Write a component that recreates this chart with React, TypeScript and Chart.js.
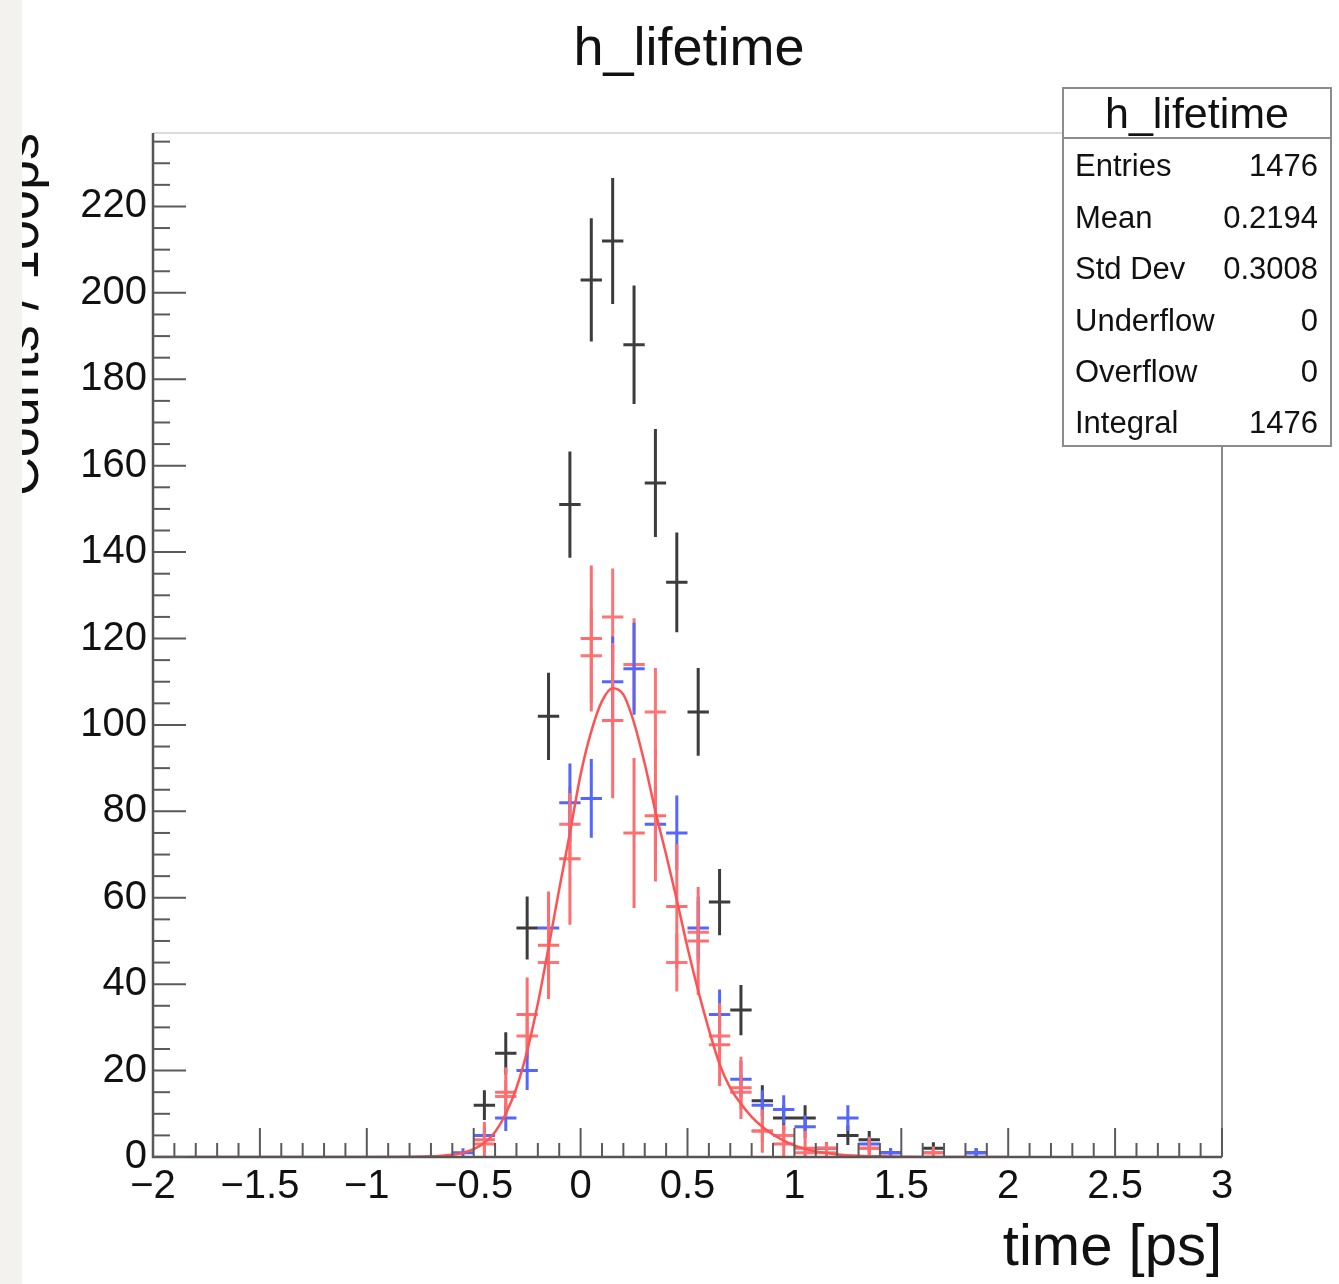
import React, { useEffect, useRef } from "react";
import { Chart, registerables } from "chart.js";

Chart.register(...registerables);

// ---- data ----
const binCenters = [-0.55, -0.45, -0.35, -0.25, -0.15, -0.05, 0.05, 0.15, 0.25, 0.35, 0.45, 0.55, 0.65, 0.75, 0.85, 0.95, 1.05, 1.15, 1.25, 1.35, 1.45, 1.55, 1.65, 1.75, 1.85];
const blackCounts = [0, 12, 24, 53, 102, 151, 203, 212, 188, 156, 133, 103, 59, 34, 13, 9, 9, 2, 5, 4, 1, 0, 2, 0, 1];
const blueCounts = [1, 5, 9, 20, 53, 82, 83, 110, 113, 77, 75, 53, 33, 18, 12, 11, 7, 0, 9, 3, 1, 0, 0, 0, 1];
const redDiffCounts = [0, 4, 15, 33, 49, 69, 120, 101, 75, 79, 58, 50, 26, 16, 6, 3, 2, 2, 0, 2, 0, 0, 1, 0, 0];
const redCounts = [0, 3, 14, 28, 45, 77, 116, 125, 114, 103, 45, 52, 28, 15, 6, 5, 1, 1, 0, 2, 0, 0, 1, 0, 0];
const halfBinWidth = 0.05;

const fitX = [-2, -1.5, -1, -0.8, -0.7, -0.65, -0.6, -0.55, -0.5, -0.45, -0.4, -0.35, -0.3, -0.25, -0.2, -0.15, -0.1, -0.05, 0, 0.05, 0.1, 0.15, 0.2, 0.25, 0.3, 0.35, 0.4, 0.45, 0.5, 0.55, 0.6, 0.65, 0.7, 0.75, 0.8, 0.85, 0.9, 0.95, 1.0, 1.05, 1.1, 1.15, 1.2, 1.3, 1.4, 1.5, 1.7, 2.0];
const fitY = [0, 0, 0, 0.05, 0.15, 0.3, 0.5, 1, 1.8, 3.3, 5.8, 10, 16, 24.5, 35.5, 48.5, 62, 75, 88.5, 98.5, 105.5, 108.5, 107, 100.5, 91, 80, 70, 59.5, 48.5, 38.5, 29.5, 21.5, 16, 12.3, 9.3, 7, 5.2, 3.8, 2.7, 1.9, 1.3, 0.9, 0.6, 0.3, 0.15, 0.07, 0.02, 0];

const xMajorTicks = [-2, -1.5, -1, -0.5, 0, 0.5, 1, 1.5, 2, 2.5, 3];
const yMajorTicks = [0, 20, 40, 60, 80, 100, 120, 140, 160, 180, 200, 220];
const xMin = -2;
const xMax = 3;
const yMin = 0;
const yMax = 237;

const titleText = "h_lifetime";
const xTitle = "time [ps]";
const yTitle = "Counts / 100ps";
const statLabels = ["Entries", "Mean", "Std Dev", "Underflow", "Overflow", "Integral"];
const statValues = ["1476", "0.2194", "0.3008", "0", "0", "1476"];

const FONT = '"Liberation Sans", Arial, Helvetica, sans-serif';

type Pt = { x: number; y: number | null };

function errorBarData(counts: number[], errs: number[]): Pt[] {
  const pts: Pt[] = [];
  binCenters.forEach((c, i) => {
    const v = counts[i];
    if (!v) return;
    const e = errs[i];
    pts.push({ x: c, y: v - e }, { x: c, y: v + e }, { x: c, y: null });
    pts.push({ x: c - halfBinWidth, y: v }, { x: c + halfBinWidth, y: v }, { x: c, y: null });
  });
  return pts;
}

function fmt(v: number): string {
  const r = Math.round(v * 10) / 10;
  const s = String(Math.abs(r));
  return r < 0 ? "\u2212" + s : s;
}

const ticksPlugin = {
  id: "rootAxes",
  afterDraw(chart: any) {
    const { ctx, chartArea, scales } = chart;
    const xs = scales.x;
    const ys = scales.y;
    const { left, right, top, bottom } = chartArea;
    ctx.save();
    // frame
    ctx.strokeStyle = "#cfcfcf";
    ctx.lineWidth = 1.5;
    ctx.beginPath();
    ctx.moveTo(left, top);
    ctx.lineTo(right, top);
    ctx.stroke();
    ctx.strokeStyle = "#8a8a8a";
    ctx.lineWidth = 2;
    ctx.beginPath();
    ctx.moveTo(right, top);
    ctx.lineTo(right, bottom);
    ctx.stroke();
    // axes
    ctx.strokeStyle = "#555";
    ctx.lineWidth = 2.5;
    ctx.beginPath();
    ctx.moveTo(left, top);
    ctx.lineTo(left, bottom);
    ctx.lineTo(right, bottom);
    ctx.stroke();
    // x ticks (inward)
    ctx.lineWidth = 2;
    ctx.strokeStyle = "#5a5a5a";
    for (let i = 0; i <= 50; i++) {
      const v = xMin + i * 0.1;
      const px = xs.getPixelForValue(v);
      const len = i % 5 === 0 ? 29 : 14;
      ctx.beginPath();
      ctx.moveTo(px, bottom);
      ctx.lineTo(px, bottom - len);
      ctx.stroke();
    }
    // y ticks (inward)
    for (let v = 0; v <= yMax; v += 5) {
      const py = ys.getPixelForValue(v);
      const len = v % 20 === 0 ? 33 : 17;
      ctx.beginPath();
      ctx.moveTo(left, py);
      ctx.lineTo(left + len, py);
      ctx.stroke();
    }
    ctx.restore();
  },
};

export default function App() {
  const canvasRef = useRef<HTMLCanvasElement>(null);

  useEffect(() => {
    document.body.style.margin = "0";
    const canvas = canvasRef.current;
    if (!canvas) return;
    Chart.defaults.font.family = FONT;

    const blackErr = blackCounts.map((v) => Math.sqrt(v));
    const blueErr = blueCounts.map((v) => Math.sqrt(v));
    const redErr = redCounts.map((v) => Math.sqrt(v));
    const diffErr = redDiffCounts.map((_, i) => Math.sqrt(blackCounts[i] + blueCounts[i]));

    const common = {
      type: "line" as const,
      pointRadius: 0,
      pointHoverRadius: 0,
      tension: 0,
      spanGaps: false,
      fill: false,
    };

    const chart = new Chart(canvas, {
      type: "line",
      data: {
        datasets: [
          {
            ...common,
            label: "fit",
            data: fitX.map((x, i) => ({ x, y: fitY[i] })),
            borderColor: "#ff5252",
            borderWidth: 2.5,
            cubicInterpolationMode: "monotone",
          } as any,
          {
            ...common,
            label: "difference",
            data: errorBarData(redDiffCounts, diffErr),
            borderColor: "#ff6e6e",
            borderWidth: 3,
          },
          {
            ...common,
            label: "blue",
            data: errorBarData(blueCounts, blueErr),
            borderColor: "#5566ff",
            borderWidth: 3,
          },
          {
            ...common,
            label: "red",
            data: errorBarData(redCounts, redErr),
            borderColor: "#ff7474",
            borderWidth: 3,
          },
          {
            ...common,
            label: "h_lifetime",
            data: errorBarData(blackCounts, blackErr),
            borderColor: "#3c3c3c",
            borderWidth: 3,
          },
        ],
      },
      options: {
        responsive: false,
        animation: false,
        devicePixelRatio: 1,
        events: [],
        layout: { padding: { left: 0, right: 117, top: 133, bottom: 0 } },
        plugins: {
          legend: { display: false },
          tooltip: { enabled: false },
          title: { display: false },
        },
        scales: {
          x: {
            type: "linear",
            position: "bottom",
            min: xMin,
            max: xMax,
            grid: { display: false, drawTicks: false, tickLength: 0 },
            border: { display: false },
            afterBuildTicks: (scale: any) => {
              scale.ticks = xMajorTicks.map((v) => ({ value: v }));
            },
            afterFit: (scale: any) => {
              scale.height = 127;
            },
            ticks: {
              autoSkip: false,
              maxRotation: 0,
              padding: 6,
              color: "#111",
              font: { size: 40, family: FONT },
              callback: (v: any) => fmt(Number(v)),
            },
            title: {
              display: true,
              text: xTitle,
              align: "end",
              color: "#111",
              font: { size: 58, family: FONT, lineHeight: 1.2 },
              padding: { top: 0, bottom: 0 },
            },
          },
          y: {
            type: "linear",
            min: yMin,
            max: yMax,
            grid: { display: false, drawTicks: false, tickLength: 0 },
            border: { display: false },
            afterBuildTicks: (scale: any) => {
              scale.ticks = yMajorTicks.map((v) => ({ value: v }));
            },
            afterFit: (scale: any) => {
              scale.width = 153;
            },
            ticks: {
              padding: 6,
              color: "#111",
              font: { size: 40, family: FONT },
              callback: (v: any) => fmt(Number(v)),
            },
            title: {
              display: true,
              text: yTitle,
              align: "end",
              color: "#111",
              font: { size: 54, family: FONT, lineHeight: 0.86 },
              padding: { top: 0, bottom: 0 },
            },
          },
        },
      },
      plugins: [ticksPlugin],
    });
    return () => chart.destroy();
  }, []);

  const boxLeft = 1062;
  const boxTop = 87;
  const boxW = 270;
  const boxH = 360;
  const border = 2;
  const statFont = 31;
  const rowBaselines = [177, 229, 280, 332, 383, 434];
  const rowLine = 50;
  const rowBaseOffset = (rowLine - 1.117 * statFont) / 2 + 0.905 * statFont;

  return (
    <div
      style={{
        position: "relative",
        width: 1339,
        height: 1284,
        background: "#ffffff",
        overflow: "hidden",
        fontFamily: FONT,
        color: "#111",
      }}
    >
      <canvas
        ref={canvasRef}
        width={1339}
        height={1284}
        style={{ position: "absolute", left: 0, top: 0, display: "block" }}
      />
      <div
        style={{
          position: "absolute",
          left: 0,
          top: 0,
          width: 22,
          height: 1284,
          background: "#f4f2ee",
        }}
      />
      <div
        style={{
          position: "absolute",
          left: 389,
          top: 16,
          width: 600,
          height: 60,
          lineHeight: "60px",
          fontSize: 54,
          textAlign: "center",
          whiteSpace: "nowrap",
        }}
      >
        {titleText}
      </div>
      <div
        style={{
          position: "absolute",
          left: boxLeft,
          top: boxTop,
          width: boxW,
          height: boxH,
          boxSizing: "border-box",
          background: "#fff",
          border: `${border}px solid #8c8c8c`,
        }}
      >
        <div
          style={{
            position: "absolute",
            left: 0,
            top: 0,
            width: boxW - 2 * border,
            height: 48,
            lineHeight: "48px",
            fontSize: 43,
            textAlign: "center",
            borderBottom: "2px solid #8c8c8c",
            whiteSpace: "nowrap",
          }}
        >
          {titleText}
        </div>
        {statLabels.map((lab, i) => (
          <div
            key={lab}
            style={{
              position: "absolute",
              left: 11,
              right: 12,
              top: rowBaselines[i] - rowBaseOffset - boxTop - border,
              height: rowLine,
              lineHeight: `${rowLine}px`,
              fontSize: statFont,
              display: "flex",
              justifyContent: "space-between",
              whiteSpace: "nowrap",
            }}
          >
            <span>{lab}</span>
            <span>{statValues[i]}</span>
          </div>
        ))}
      </div>
    </div>
  );
}
